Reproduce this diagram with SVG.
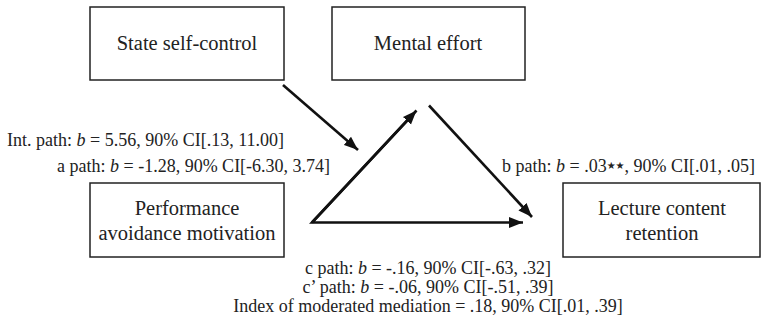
<svg xmlns="http://www.w3.org/2000/svg" width="762" height="326" viewBox="0 0 762 326">
<style>
.box{fill:#fff;stroke:#222;stroke-width:1.5}
.nt{font-family:"Liberation Serif","Times New Roman",serif;font-size:20.5px;fill:#222;text-anchor:middle}
.lb{font-family:"Liberation Serif","Times New Roman",serif;font-size:18px;fill:#222}
.ar{stroke:#111;stroke-width:2.6;fill:none}
.st{font-family:"DejaVu Sans",sans-serif;font-size:10px}
</style>
<defs>
<marker id="ah" markerUnits="userSpaceOnUse" markerWidth="15" markerHeight="12" refX="14" refY="6" orient="auto">
<path d="M0,0.5 L14,6 L0,11.5 z" fill="#111"/>
</marker>
</defs>
<rect width="762" height="326" fill="#fff"/>
<g id="node-state">
<rect class="box" x="90" y="7" width="194" height="73"/>
<text class="nt" x="187" y="50">State self-control</text>
</g>
<g id="node-mental">
<rect class="box" x="332" y="7" width="193" height="73"/>
<text class="nt" x="428" y="50">Mental effort</text>
</g>
<g id="node-perf">
<rect class="box" x="90" y="183" width="194" height="74"/>
<text class="nt" x="187" y="215">Performance</text>
<text class="nt" x="187" y="240">avoidance motivation</text>
</g>
<g id="node-lecture">
<rect class="box" x="563" y="183" width="197" height="74"/>
<text class="nt" x="662" y="215">Lecture content</text>
<text class="nt" x="662" y="240">retention</text>
</g>
<g id="connectors">
<line class="ar" x1="283" y1="85" x2="358" y2="150" marker-end="url(#ah)"/>
<polyline class="ar" points="409.7,117.8 312,222.5 523,222.5" marker-end="url(#ah)"/>
<line class="ar" x1="312" y1="222.5" x2="416.5" y2="110.5" marker-end="url(#ah)"/>
<line class="ar" x1="429" y1="105.5" x2="532" y2="217" marker-end="url(#ah)"/>
</g>
<g id="labels">
<text class="lb" x="7" y="146">Int. path: <tspan font-style="italic">b</tspan> = 5.56, 90% CI[.13, 11.00]</text>
<text class="lb" x="57" y="172">a path: <tspan font-style="italic">b</tspan> = -1.28, 90% CI[-6.30, 3.74]</text>
<text class="lb" x="502" y="172">b path: <tspan font-style="italic">b</tspan> = .03<tspan class="st" dy="-3">★★</tspan><tspan dy="3">, 90% CI[.01, .05]</tspan></text>
<text class="lb" x="428" y="274" text-anchor="middle">c path: <tspan font-style="italic">b</tspan> = -.16, 90% CI[-.63, .32]</text>
<text class="lb" x="428" y="293" text-anchor="middle">c’ path: <tspan font-style="italic">b</tspan> = -.06, 90% CI[-.51, .39]</text>
<text class="lb" x="428" y="312" text-anchor="middle">Index of moderated mediation = .18, 90% CI[.01, .39]</text>
</g>
</svg>
